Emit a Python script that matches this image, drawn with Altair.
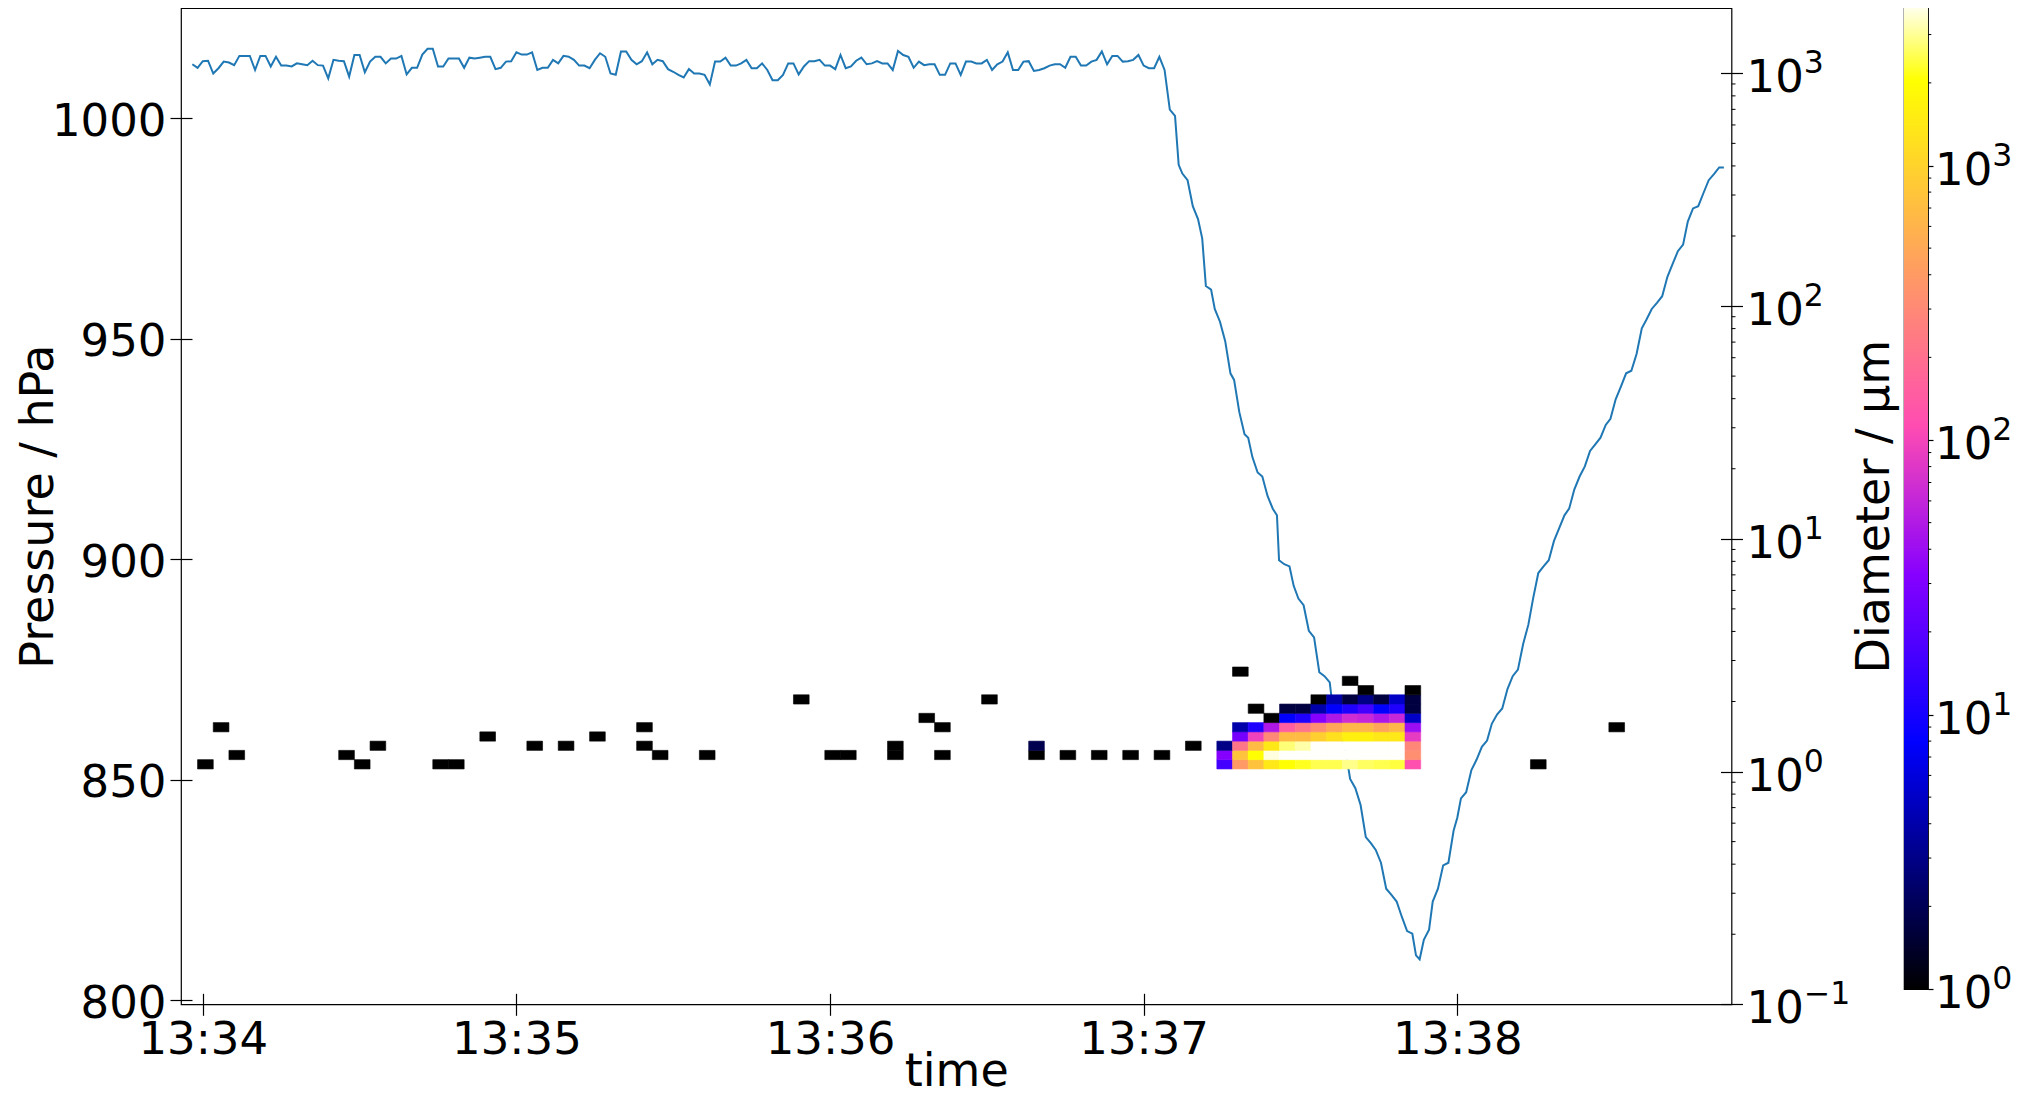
import math
import numpy as np
import pandas as pd
import altair as alt

# ---------------- data ----------------
BASE = pd.Timestamp("2020-01-01 13:34:00")

# pressure, flat part: 1-s sampling starting 2 s before 13:34:00
FLAT_T0 = -2
FLAT_P = [
    1012.3, 1011.5, 1013.0, 1013.1, 1010.2, 1011.4, 1012.9, 1012.7, 1012.1, 1014.2,
    1014.2, 1014.2, 1011.0, 1014.2, 1014.2, 1011.8, 1014.0, 1012.0, 1012.0, 1011.8,
    1012.5, 1012.3, 1012.1, 1013.1, 1012.1, 1012.0, 1009.1, 1013.3, 1013.1, 1013.0,
    1009.5, 1014.4, 1014.4, 1010.5, 1012.9, 1014.0, 1014.0, 1012.5, 1013.6, 1013.6,
    1014.2, 1010.0, 1011.5, 1011.5, 1014.5, 1015.8, 1015.8, 1011.8, 1011.8, 1013.6,
    1013.6, 1013.6, 1011.5, 1013.8, 1013.6, 1013.8, 1014.0, 1014.0, 1011.2, 1011.5,
    1012.9, 1013.0, 1015.0, 1014.5, 1014.5, 1015.0, 1011.0, 1011.5, 1011.5, 1013.3,
    1012.5, 1014.2, 1014.0, 1013.3, 1012.0, 1012.0, 1011.4, 1013.3, 1014.8, 1014.0,
    1010.2, 1009.9, 1015.2, 1015.2, 1013.3, 1012.3, 1013.0, 1015.0, 1012.3, 1013.3,
    1013.0, 1011.2, 1010.6, 1009.9, 1009.3, 1011.2, 1010.2, 1010.2, 1009.9, 1007.7,
    1012.9, 1012.9, 1013.8, 1012.0, 1012.0, 1012.5, 1013.3, 1011.4, 1011.4, 1012.5,
    1011.0, 1008.7, 1008.7, 1009.9, 1012.5, 1012.5, 1010.0, 1011.8, 1013.0, 1013.0,
    1013.3, 1012.0, 1012.0, 1011.2, 1014.4, 1011.4, 1011.8, 1013.1, 1013.8, 1012.3,
    1012.5, 1013.0, 1012.5, 1012.5, 1011.0, 1015.3, 1014.4, 1014.0, 1011.5, 1012.9,
    1012.1, 1012.3, 1012.3, 1009.9, 1009.9, 1012.5, 1012.5, 1009.9, 1012.9, 1012.9,
    1012.5, 1012.5, 1013.3, 1011.0, 1012.3, 1012.9, 1015.0, 1011.0, 1011.0, 1012.9,
    1013.0, 1010.8, 1011.0, 1011.4, 1012.0, 1012.3, 1012.3, 1011.5, 1014.0, 1014.0,
    1012.0, 1012.0, 1012.9, 1013.3, 1015.2, 1012.3, 1014.2, 1014.2, 1012.9, 1013.0,
    1013.3, 1014.4, 1012.0, 1011.4, 1011.4, 1014.0,
]

# pressure, descent and ascent: seconds after 13:34:00
DROP_T = [
    184.0, 185.0, 186.0, 186.7, 187.4, 188.4, 189.4, 190.4, 191.2, 191.9,
    192.9, 193.6, 194.6, 195.6, 196.6, 197.3, 198.3, 199.3, 200.0, 200.8,
    201.8, 202.7, 203.7, 204.7, 205.5, 205.9, 206.9, 207.9, 208.7, 209.6,
    210.6, 211.6, 212.6, 213.6, 214.6, 215.6, 216.6, 217.5, 218.5, 219.5,
    220.5, 221.5, 222.5, 223.5, 224.4, 225.4, 226.4, 227.4, 228.4, 229.4,
    230.4, 231.4, 232.1, 232.8, 233.6, 234.6, 235.3, 236.3, 237.3, 238.3,
    239.3, 240.0, 240.7, 241.7, 242.7, 243.7, 244.7, 245.7, 246.6, 247.6,
    248.6, 249.6, 250.6, 251.6, 252.6, 253.6, 254.5, 255.5, 256.5, 257.5,
    258.5, 259.5, 260.5, 261.4, 262.4, 263.4, 264.4, 265.4, 266.4, 267.4,
    268.4, 269.3, 270.3, 271.3, 272.3, 273.3, 274.3, 275.3, 276.2, 277.2,
    278.2, 279.2, 280.2, 281.2, 282.2, 283.2, 284.1, 285.1, 286.1, 287.1,
    288.1, 289.1, 290.1, 291.0,
]
DROP_P = [
    1011.0, 1002.0, 1000.6, 989.5, 987.5, 986.0, 980.1, 977.2, 972.8, 962.0,
    961.2, 956.8, 953.9, 949.5, 942.2, 940.7, 933.4, 928.4, 927.6, 923.2,
    919.7, 918.8, 914.4, 911.5, 910.0, 899.8, 898.9, 898.4, 894.0, 891.1,
    889.6, 883.8, 882.3, 874.4, 873.5, 872.1, 861.9, 860.4, 857.5, 850.2,
    848.1, 844.3, 837.0, 835.6, 834.1, 831.2, 825.3, 823.9, 822.4, 818.9,
    815.7, 815.1, 810.2, 809.3, 813.7, 816.0, 822.4, 825.3, 830.6, 831.2,
    838.5, 841.4, 845.8, 847.2, 852.2, 854.6, 857.5, 858.9, 862.7, 864.8,
    866.2, 870.6, 873.5, 875.0, 880.8, 885.2, 891.1, 896.9, 898.4, 899.8,
    904.2, 907.1, 910.0, 911.5, 915.9, 918.8, 921.1, 924.6, 926.1, 927.6,
    930.5, 931.9, 936.3, 939.2, 942.2, 942.8, 946.6, 952.4, 954.4, 956.8,
    958.2, 959.7, 964.1, 967.0, 969.9, 971.4, 976.6, 979.6, 980.1, 983.1,
    986.0, 987.4, 988.9, 988.9,
]

# size-distribution cells: 3-s time bins, log-spaced diameter bins
BIN_HALF = 1.5
D_EDGES = [1.026, 1.125, 1.233, 1.351, 1.481, 1.623, 1.779, 1.950, 2.137, 2.342, 2.567, 2.813]

ISO_T = [0.5, 3.5, 6.5, 27.5, 30.5, 33.5, 45.5, 48.5, 54.5, 63.5, 69.5, 75.5, 84.5, 84.5,
         87.5, 96.5, 114.5, 120.5, 123.5, 132.5, 132.5, 138.5, 141.5, 141.5, 150.5, 159.5,
         159.5, 165.5, 171.5, 177.5, 183.5, 189.5, 255.5, 270.5]
ISO_ROW = [0, 4, 1, 1, 0, 2, 0, 0, 3, 2, 2, 3, 4, 2, 1, 1, 7, 1, 1, 1, 2, 5, 4, 1, 7, 1,
           2, 1, 1, 1, 1, 2, 0, 4]
ISO_N = [1, 1, 1, 1, 1, 1, 1, 1, 1, 1, 1, 1, 1, 1, 1, 1, 1, 1, 1, 1, 1, 1, 1, 1, 1, 1,
         1.9, 1, 1, 1, 1, 1, 1, 1]

BLOCK_T = [195.5, 198.5, 201.5, 204.5, 207.5, 210.5, 213.5, 216.5, 219.5, 222.5, 225.5, 228.5, 231.5]
BLOCK = [  # row 0 (smallest diameter) upward; 0 = empty
    [16, 390, 760, 1400, 2040, 2210, 2500, 2500, 2900, 2620, 2500, 2400, 118],
    [32, 760, 2040, 3640, 3900, 3900, 3900, 3900, 3900, 3900, 3900, 3900, 330],
    [3, 220, 675, 1400, 2770, 3160, 3900, 3900, 3900, 3900, 3900, 3900, 290],
    [0, 27, 96, 295, 675, 675, 940, 1230, 1590, 1590, 1400, 1400, 87],
    [0, 4, 11, 48, 150, 220, 330, 480, 630, 630, 480, 630, 40],
    [0, 0, 0, 1, 8, 11, 32, 48, 68, 62, 48, 62, 5],
    [0, 0, 1, 0, 1.7, 1.7, 4, 8, 11, 16, 8, 11, 1.7],
    [0, 0, 0, 0, 0, 0, 1, 4, 1.7, 3, 1.7, 5, 1.7],
    [0, 0, 0, 0, 0, 0, 0, 0, 0, 1, 0, 0, 1],
    [0, 0, 0, 0, 0, 0, 0, 0, 1, 0, 0, 0, 0],
    [0, 1, 0, 0, 0, 0, 0, 0, 0, 0, 0, 0, 0],
]

# axes
P_TICKS = [800, 850, 900, 950, 1000]
D_TICKS = [0.1, 1, 10, 100, 1000]
D_EXP = ["\u22121", "0", "1", "2", "3"]
D_MINOR = [0.2, 0.3, 0.4, 0.5, 0.6, 0.7, 0.8, 0.9, 2, 3, 4, 5, 6, 7, 8, 9,
           20, 30, 40, 50, 60, 70, 80, 90, 200, 300, 400, 500, 600, 700, 800, 900]
CB_TICKS = [1, 10, 100, 1000]
CB_EXP = ["0", "1", "2", "3"]
CB_MINOR = [2, 3, 4, 5, 6, 7, 8, 9, 20, 30, 40, 50, 60, 70, 80, 90,
            200, 300, 400, 500, 600, 700, 800, 900, 2000, 3000]
LOG_BASE_TEXT = "10"
TIME_TICK_MIN = [34, 35, 36, 37, 38]

P_DOMAIN = [799.09, 1025.06]
D_DOMAIN = [0.1, 1908]
T_DOMAIN_S = [-4.17, 292.46]
VMAX = 3945.0
CB_TOP = 3748.0

# gnuplot2 colormap breakpoints
GN2_T = [0.0, 0.25, 0.42, 0.57, 0.92, 1.0]
GN2_RGB = [(0, 0, 0), (0, 0, 1), (0.53125, 0, 1), (1, 0.3, 0.7), (1, 1, 0), (1, 1, 1)]

# ---------------- layout ----------------
W, H = 1550.5, 996.3
CB_W, CB_H = 24, 981
SPACING = 172
FONT = "DejaVu Sans"
FS = 45                 # tick label size
FS_SUP = 31.5           # superscript size
BASE_W = 57.3           # advance width of "10" at FS
SUP_DY = 19             # baseline shift of the "10" below the tick
PAD_LEFT = 173          # plot origin at page x = 8 + 173
SVG_W, SVG_H = 2004, 1090


def iso(sec):
    ts = BASE + pd.Timedelta(seconds=float(sec))
    return ts.strftime("%Y-%m-%dT%H:%M:%S.%f")[:-3]


def dt(sec):
    ts = BASE + pd.Timedelta(seconds=float(sec))
    return alt.DateTime(year=ts.year, month=ts.month, date=ts.day, hours=ts.hour,
                        minutes=ts.minute, seconds=ts.second,
                        milliseconds=int(round(ts.microsecond / 1000)))


def hexcol(rgb):
    return "#%02x%02x%02x" % tuple(int(round(255 * c)) for c in rgb)


def gn2(t):
    return tuple(float(np.interp(t, GN2_T, [c[i] for c in GN2_RGB])) for i in range(3))


flat_t = [FLAT_T0 + i for i in range(len(FLAT_P))]
line_df = pd.DataFrame({
    "time": [iso(t) for t in flat_t + DROP_T],
    "pressure": FLAT_P + DROP_P,
})

rows = []
for t, r, n in zip(ISO_T, ISO_ROW, ISO_N):
    rows.append((t, r, n))
for r, vals in enumerate(BLOCK):
    for t, n in zip(BLOCK_T, vals):
        if n > 0:
            rows.append((t, r, n))
heat_df = pd.DataFrame({
    "t0": [iso(t - BIN_HALF) for t, _, _ in rows],
    "t1": [iso(t + BIN_HALF) for t, _, _ in rows],
    "d_lo": [D_EDGES[r] for _, r, _ in rows],
    "d_hi": [D_EDGES[r + 1] for _, r, _ in rows],
    "n": [n for _, _, n in rows],
})

# scales
xscale = alt.Scale(domain=[dt(T_DOMAIN_S[0]), dt(T_DOMAIN_S[1])], nice=False)
pscale = alt.Scale(domain=P_DOMAIN, zero=False, nice=False)
dscale = alt.Scale(type="log", domain=D_DOMAIN, nice=False)
cscale = alt.Scale(type="log", domain=[VMAX ** t for t in GN2_T],
                   range=[hexcol(c) for c in GN2_RGB], interpolate="rgb", nice=False)

xaxis = alt.Axis(
    values=[alt.DateTime(year=2020, month=1, date=1, hours=13, minutes=m) for m in TIME_TICK_MIN],
    format="%H:%M", title="time", tickSize=22, offset=-11, labelPadding=2,
    titlePadding=-12.5, labelFlush=False, domain=False, grid=False)
paxis = alt.Axis(values=P_TICKS, format="d", orient="left", title="Pressure / hPa",
                 tickSize=22, offset=-11, labelPadding=4, titlePadding=-11,
                 labelOffset=3, domain=False, grid=False)
daxis = alt.Axis(values=D_TICKS, labels=False, orient="right",
                 title="Diameter / \u00b5m", tickSize=22, offset=-11,
                 titlePadding=109.5, titleAngle=270, titleBaseline="top",
                 domain=False, grid=False)

line = alt.Chart(line_df).mark_line(color="#1f77b4", strokeWidth=2).encode(
    x=alt.X("time:T", scale=xscale, axis=xaxis),
    y=alt.Y("pressure:Q", scale=pscale, axis=paxis),
)

heat = alt.Chart(heat_df).mark_rect(strokeWidth=0.6).encode(
    x=alt.X("t0:T", scale=xscale, axis=xaxis),
    x2="t1:T",
    y=alt.Y("d_lo:Q", scale=dscale, axis=daxis),
    y2="d_hi:Q",
    color=alt.Color("n:Q", scale=cscale, legend=None),
    stroke=alt.Stroke("n:Q", scale=cscale, legend=None),
)

rminor = alt.Chart(pd.DataFrame({"d": D_MINOR})).mark_rule(color="black", strokeWidth=1).encode(
    y=alt.Y("d:Q", scale=dscale, axis=None),
    x=alt.value(W),
    x2=alt.value(W + 4),
)

rlab_df = pd.DataFrame({"d": D_TICKS, "exp": D_EXP})
rbase = alt.Chart(rlab_df).mark_text(align="left", baseline="alphabetic", font=FONT,
                                     fontSize=FS, color="black", dy=SUP_DY).encode(
    y=alt.Y("d:Q", scale=dscale, axis=None),
    x=alt.value(W + 15),
    text=alt.value(LOG_BASE_TEXT),
)
rsup = alt.Chart(rlab_df).mark_text(align="left", baseline="alphabetic", font=FONT,
                                    fontSize=FS_SUP, color="black").encode(
    y=alt.Y("d:Q", scale=dscale, axis=None),
    x=alt.value(W + 15 + BASE_W),
    text="exp:N",
)

main = (alt.layer(line, heat, rminor, rbase, rsup)
        .resolve_scale(y="independent")
        .properties(width=W, height=H))

# colour bar
t_top = math.log10(CB_TOP) / math.log10(VMAX)
stops = [alt.GradientStop(offset=t / t_top, color=hexcol(c))
         for t, c in zip(GN2_T, GN2_RGB) if t <= t_top]
stops.append(alt.GradientStop(offset=1.0, color=hexcol(gn2(t_top))))
grad = alt.LinearGradient(gradient="linear", stops=stops, x1=0, x2=0, y1=1, y2=0)

cb_scale = alt.Scale(type="log", domain=[1, CB_TOP], nice=False)
cb_axis = alt.Axis(values=CB_TICKS, labels=False, orient="right", title=None,
                   tickSize=5, domain=False, grid=False)

cb_rect = alt.Chart(pd.DataFrame({"lo": [1.0], "hi": [CB_TOP]})).mark_rect(color=grad).encode(
    y=alt.Y("lo:Q", scale=cb_scale, axis=cb_axis),
    y2="hi:Q",
    x=alt.value(0),
    x2=alt.value(CB_W),
)
cb_minor = alt.Chart(pd.DataFrame({"v": CB_MINOR})).mark_rule(color="black", strokeWidth=1).encode(
    y=alt.Y("v:Q", scale=cb_scale, axis=cb_axis),
    x=alt.value(CB_W),
    x2=alt.value(CB_W + 3.3),
)
cblab_df = pd.DataFrame({"v": CB_TICKS, "exp": CB_EXP})
cb_base = alt.Chart(cblab_df).mark_text(align="left", baseline="alphabetic", font=FONT,
                                        fontSize=FS, color="black", dy=SUP_DY).encode(
    y=alt.Y("v:Q", scale=cb_scale, axis=cb_axis),
    x=alt.value(CB_W + 7),
    text=alt.value(LOG_BASE_TEXT),
)
cb_sup = alt.Chart(cblab_df).mark_text(align="left", baseline="alphabetic", font=FONT,
                                       fontSize=FS_SUP, color="black").encode(
    y=alt.Y("v:Q", scale=cb_scale, axis=cb_axis),
    x=alt.value(CB_W + 7 + BASE_W),
    text="exp:N",
)
cbar = alt.layer(cb_rect, cb_minor, cb_base, cb_sup).properties(width=CB_W, height=CB_H)

chart = (
    alt.hconcat(main, cbar, spacing=SPACING, bounds="flush")
    .properties(
        autosize=alt.AutoSizeParams(type="none"),
        padding={"left": PAD_LEFT, "top": 0, "right": SVG_W - PAD_LEFT, "bottom": SVG_H},
        background="white",
    )
    .configure_axis(labelFont=FONT, titleFont=FONT, labelFontSize=FS, titleFontSize=46,
                    titleFontWeight="normal", labelColor="black", titleColor="black",
                    tickColor="black", tickWidth=1.2)
    .configure_view(stroke="black", strokeWidth=1.2)
)

chart.save("out.html", embed_options={"renderer": "svg", "actions": False})
